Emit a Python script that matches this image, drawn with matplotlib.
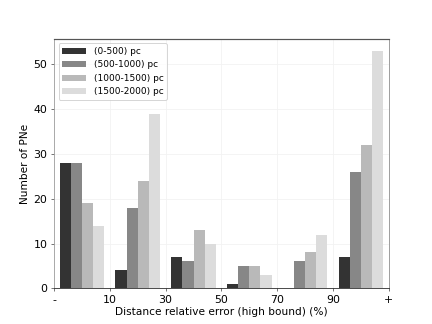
import matplotlib.pyplot as plt
import numpy as np

# Bins of the relative error (high bound)
bin_labels = ['-', '10', '30', '50', '70', '90', '+']
series = ['(0-500) pc', '(500-1000) pc', '(1000-1500) pc', '(1500-2000) pc']
d0 = [28, 4, 7, 1, 0, 7]
d1 = [28, 18, 6, 5, 6, 26]
d2 = [19, 24, 13, 5, 8, 32]
d3 = [14, 39, 10, 3, 12, 53]
colors = ['#333333', '#878787', '#b9b9b9', '#dcdcdc']

fig, ax = plt.subplots(figsize=(6, 4.5), dpi=72)
x = np.arange(len(d0))
w = 0.2
for k, (vals, lab, c) in enumerate(zip([d0, d1, d2, d3], series, colors)):
    ax.bar(x + 0.1 + k * w, vals, width=w, align='edge', color=c, label=lab, zorder=2)

ax.set_xlim(0, 6)
ax.set_ylim(0, 55.65)
ax.set_xticks(np.arange(7))
ax.set_xticklabels(bin_labels)
ax.grid(True, color='#f2f2f2', linewidth=0.8, zorder=0)
ax.tick_params(labelsize=11, length=3, color='#555555')
ax.spines['left'].set_color('#999999')
ax.spines['right'].set_color('#888888')
ax.spines['top'].set_color('#555555')
ax.spines['top'].set_linewidth(1.2)
ax.spines['bottom'].set_color('#222222')
ax.set_xlabel('Distance relative error (high bound) (%)', fontsize=10.5, labelpad=2)
ax.set_ylabel('Number of PNe', fontsize=10.5)
ax.legend(loc='upper left', fontsize=9, handlelength=2.7)

plt.savefig('out.png', dpi=72)
